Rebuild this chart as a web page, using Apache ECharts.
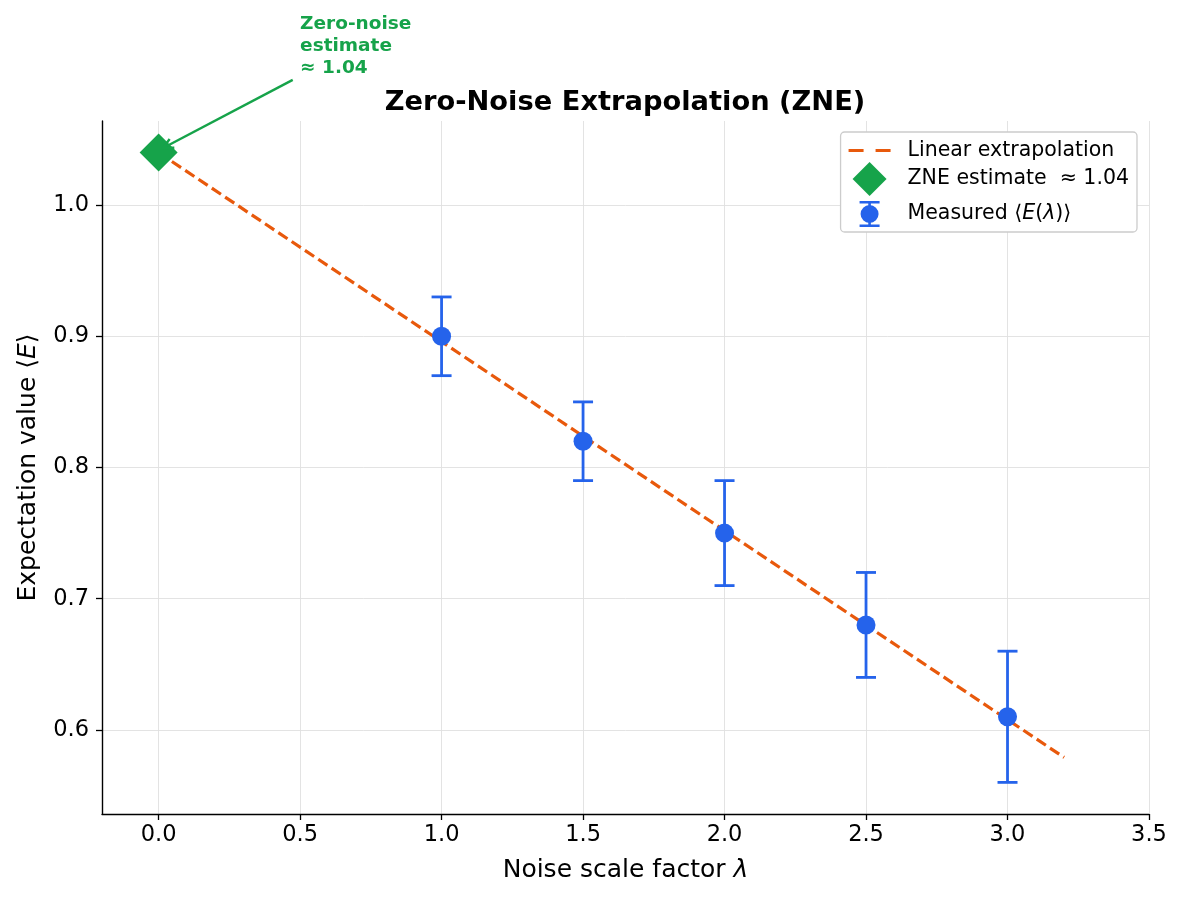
<!DOCTYPE html>
<html><head><meta charset="utf-8">
<script src="https://cdn.jsdelivr.net/npm/echarts@6/dist/echarts.min.js"></script>
<style>html,body{margin:0;padding:0;background:#fff}#c{width:1181px;height:899px}</style>
</head><body><div id="c"></div>
<script>
const lambdas = [1.0, 1.5, 2.0, 2.5, 3.0];
const measured = [0.90, 0.82, 0.75, 0.68, 0.61];
const errors = [0.03, 0.03, 0.04, 0.04, 0.05];
const fitLine = [[0.0, 1.04], [3.2, 0.579]];
const zneEstimate = [0.0, 1.04];
const xTicks = [0.0, 0.5, 1.0, 1.5, 2.0, 2.5, 3.0, 3.5];
const yTicks = [0.6, 0.7, 0.8, 0.9, 1.0];
const xRange = [-0.2, 3.5];
const yRange = [0.5359, 1.0641];
const annotText = ['Zero-noise', 'estimate', '≈ 1.04'];
const annotTextPos = [0.5, 1.146];
const annotArrowFrom = [0.474, 1.0954];
const annotArrowTo = [0.016, 1.0435];

const ORANGE = '#e8590c', GREEN = '#16a34a', BLUE = '#2563eb';
const FONT = 'DejaVu Sans';

const chart = echarts.init(document.getElementById('c'), null, {renderer: 'canvas'});

const gridLines = [];
xTicks.forEach(v => gridLines.push({xAxis: v}));
yTicks.forEach(v => gridLines.push({yAxis: v}));

const richAxis = {
  n: {fontFamily: FONT, fontSize: 25, color: '#000'},
  i: {fontFamily: FONT, fontSize: 25, fontStyle: 'italic', color: '#000'}
};

const option = {
  animation: false,
  textStyle: {fontFamily: FONT},
  title: {
    text: 'Zero-Noise Extrapolation (ZNE)',
    left: 620, top: 84, textAlign: 'center',
    textStyle: {fontFamily: FONT, fontSize: 27.3, fontWeight: 'bold', color: '#000'}
  },
  grid: {left: 102, right: 32, top: 121, bottom: 85},
  xAxis: {
    type: 'value', min: xRange[0], max: xRange[1],
    name: '{n|Noise scale factor }{i|λ}', nameLocation: 'middle', nameGap: 44,
    nameTextStyle: {rich: richAxis},
    axisLine: {onZero: false, lineStyle: {color: '#000', width: 1.4}},
    axisTick: {show: true, length: 6, customValues: xTicks, lineStyle: {color: '#000', width: 1.3}},
    axisLabel: {customValues: xTicks, formatter: v => v.toFixed(1), fontFamily: FONT, fontSize: 22.5, color: '#000', margin: 10},
    splitLine: {show: false}
  },
  yAxis: {
    type: 'value', min: yRange[0], max: yRange[1],
    name: '{n|Expectation value ⟨}{i|E}{n|⟩}', nameLocation: 'middle', nameGap: 61,
    nameTextStyle: {rich: richAxis},
    axisLine: {show: true, onZero: false, lineStyle: {color: '#000', width: 1.4}},
    axisTick: {show: true, length: 6, customValues: yTicks, lineStyle: {color: '#000', width: 1.3}},
    axisLabel: {customValues: yTicks, formatter: v => v.toFixed(1), fontFamily: FONT, fontSize: 22.5, color: '#000', margin: 13},
    splitLine: {show: false}
  },
  legend: {
    orient: 'vertical', right: 44, top: 132, z: 20,
    backgroundColor: '#fff', borderColor: '#cccccc', borderWidth: 1.3, borderRadius: 4,
    padding: [8, 8, 1, 8], itemGap: 1, itemWidth: 42, itemHeight: 34,
    symbolKeepAspect: true,
    textStyle: {fontFamily: FONT, fontSize: 20.5, color: '#000', padding: [0, 0, 0, 12],
      rich: {n: {fontFamily: FONT, fontSize: 20.5, color: '#000'}, i: {fontFamily: FONT, fontSize: 20.5, fontStyle: 'italic', color: '#000'}}},
    formatter: function (name) {
      if (name === 'Measured') return '{n|Measured ⟨}{i|E}{n|(}{i|λ}{n|)⟩}';
      return '{n|' + name + '}';
    },
    data: [
      {name: 'Linear extrapolation', icon: 'path://M0,0h15v3h-15z M27,0h15v3h-15z', itemStyle: {color: ORANGE}},
      {name: 'ZNE estimate  ≈ 1.04', icon: 'path://M17,0L34,17L17,34L0,17z', itemStyle: {color: GREEN}},
      {name: 'Measured', icon: 'path://M10,-4 M0,0h20v2.4h-20z M0,23.6h20v2.4h-20z M8.7,2.4h2.6v1.8h-2.6z M8.7,21.8h2.6v1.8h-2.6z M1,13a9,9 0 1,1 18,0a9,9 0 1,1 -18,0z M10,30', itemStyle: {color: BLUE}}
    ]
  },
  series: [
    {
      name: 'grid', type: 'line', data: [], silent: true, z: 0,
      markLine: {silent: true, z: 0, symbol: 'none', label: {show: false}, animation: false,
        lineStyle: {color: '#e0e0e0', width: 0.9, type: 'solid'}, data: gridLines}
    },
    {
      name: 'Linear extrapolation', type: 'line', data: fitLine, showSymbol: false, symbol: 'none', z: 6,
      lineStyle: {color: ORANGE, width: 3.2, type: [11, 5]}, itemStyle: {color: ORANGE}
    },
    {
      name: 'errbars', type: 'custom', z: 7,
      data: lambdas.map((x, i) => [x, measured[i] - errors[i], measured[i] + errors[i]]),
      renderItem: function (params, api) {
        const x = api.value(0);
        const lo = api.coord([x, api.value(1)]);
        const hi = api.coord([x, api.value(2)]);
        const hw = 10, lw = 2.8;
        const st = {fill: BLUE};
        return {type: 'group', children: [
          {type: 'rect', shape: {x: lo[0] - lw / 2, y: hi[1], width: lw, height: lo[1] - hi[1]}, style: st},
          {type: 'rect', shape: {x: lo[0] - hw, y: lo[1] - lw / 2, width: 2 * hw, height: lw}, style: st},
          {type: 'rect', shape: {x: hi[0] - hw, y: hi[1] - lw / 2, width: 2 * hw, height: lw}, style: st}
        ]};
      }
    },
    {
      name: 'Measured', type: 'scatter', z: 8,
      data: lambdas.map((x, i) => [x, measured[i]]),
      symbol: 'circle', symbolSize: 19, itemStyle: {color: BLUE, opacity: 1}
    },
    {
      name: 'ZNE estimate  ≈ 1.04', type: 'scatter', z: 9,
      data: [zneEstimate], symbol: 'diamond', symbolSize: 38, itemStyle: {color: GREEN, opacity: 1}
    }
  ]
};
chart.setOption(option);

// annotation via library coordinate conversion
const tp = chart.convertToPixel({gridIndex: 0}, annotTextPos);
const af = chart.convertToPixel({gridIndex: 0}, annotArrowFrom);
const at = chart.convertToPixel({gridIndex: 0}, annotArrowTo);
const ang = Math.atan2(at[1] - af[1], at[0] - af[0]);
const hl = 10, hw = 5;
const bx = at[0] - hl * Math.cos(ang), by = at[1] - hl * Math.sin(ang);
const px = -Math.sin(ang), py = Math.cos(ang);
chart.setOption({
  graphic: [
    {type: 'text', left: tp[0], top: tp[1], z: 10,
      style: {text: annotText.join('\n'), fill: GREEN, font: 'bold 18.5px "DejaVu Sans"', lineHeight: 22}},
    {type: 'line', z: 10, shape: {x1: af[0], y1: af[1], x2: at[0], y2: at[1]}, style: {stroke: GREEN, lineWidth: 2.4}},
    {type: 'polyline', z: 10, shape: {points: [[bx + px * hw, by + py * hw], [at[0], at[1]], [bx - px * hw, by - py * hw]]},
      style: {stroke: GREEN, lineWidth: 2.4, fill: null}}
  ]
});
</script>
</body></html>
